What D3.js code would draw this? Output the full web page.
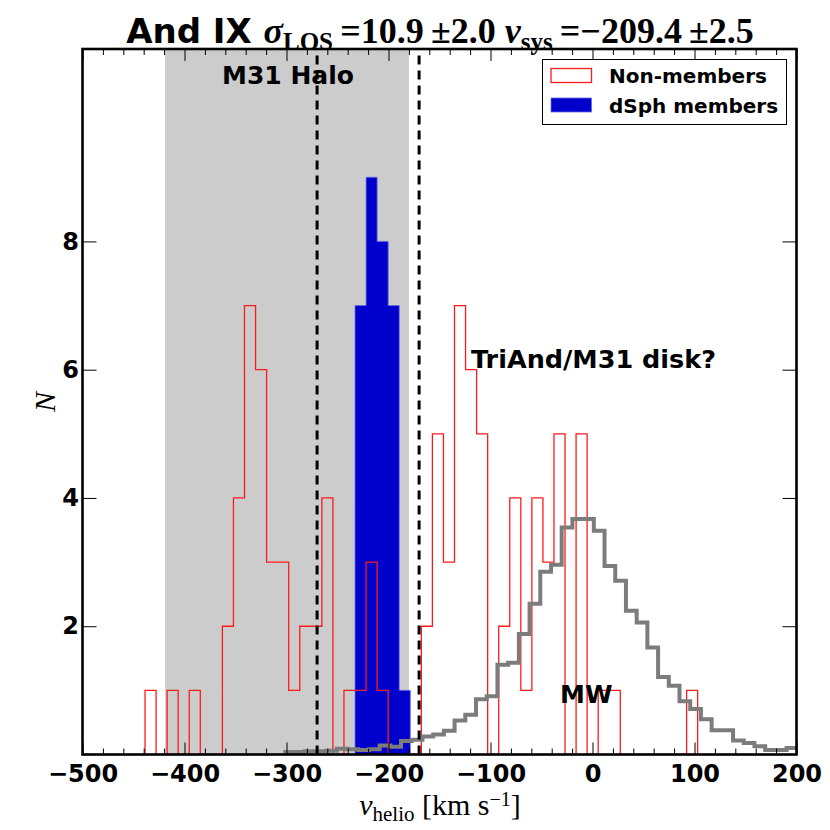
<!DOCTYPE html>
<html>
<head>
<meta charset="utf-8">
<script src="https://cdn.jsdelivr.net/npm/d3@7"></script>
<style>
  html, body { margin: 0; padding: 0; background: #fff; }
  svg { display: block; }
  .tick text { font-family: "DejaVu Sans", sans-serif; font-weight: bold; font-size: 24px; fill: #000; }
  .domain { display: none; }
</style>
</head>
<body>
<script>
// histogram bins (km/s), 50 bins shared by both samples
const binStart = -438.7;
const binWidth = 10.836;
const nonMemberCounts = [1,0,1,0,1,0,0,2,4,7, 6,3,3,1,2,2,4,0,1,1, 3,1,0,0,0,2,5,3,7,6, 5,0,2,4,1,4,3,5,0,5, 0,1,1,0,0,0,0,0,0,1];
const memberFirstBin = 19;
const memberCounts = [7,9,8,7,1];

// Milky Way model expected counts
const mwStart = -303.2;
const mwWidth = 10.5;
const mwValues = [0.04,0.04,0.05,0.05,0.06,0.09,0.08,0.07,0.08,0.14,0.12,0.21,0.23,0.28,0.31,0.37,0.53,0.62,
  0.86,0.91,1.40,1.43,1.88,2.35,2.85,2.96,3.54,3.67,3.67,3.49,2.94,2.71,2.24,2.06,1.67,1.21,1.07,0.83,0.71,0.55,
  0.38,0.38,0.22,0.18,0.13,0.07,0.07,0.10];

const haloRange = [-419, -180];
const dashedLines = [-270, -170];
const xTicks = [-500, -400, -300, -200, -100, 0, 100, 200];
const yTicks = [2, 4, 6, 8];
const legendLabels = ["Non-members", "dSph members"];

const W = 830, H = 830;
const margin = {top: 49, right: 33.5, bottom: 75.5, left: 82.5};

const svg = d3.select("body").append("svg").attr("width", W).attr("height", H);

const x = d3.scaleLinear().domain([-500, 200]).range([margin.left, W - margin.right]);
const y = d3.scaleLinear().domain([0, 11]).range([H - margin.bottom, margin.top]);

svg.append("clipPath").attr("id", "clip")
  .append("rect")
  .attr("x", x(-500)).attr("y", y(11))
  .attr("width", x(200) - x(-500)).attr("height", y(0) - y(11));

const plot = svg.append("g").attr("clip-path", "url(#clip)");

// M31 halo shaded band
plot.append("rect")
  .attr("x", x(haloRange[0])).attr("y", y(11))
  .attr("width", x(haloRange[1]) - x(haloRange[0]))
  .attr("height", y(0) - y(11))
  .attr("fill", "#cccccc");

function stepPath(start, width, counts, closed) {
  const p = d3.path();
  p.moveTo(x(start), y(closed ? 0 : counts[0]));
  counts.forEach((c, i) => {
    p.lineTo(x(start + i * width), y(c));
    p.lineTo(x(start + (i + 1) * width), y(c));
  });
  if (closed) p.lineTo(x(start + counts.length * width), y(0));
  return p.toString();
}

// dSph members (filled)
plot.append("path")
  .attr("d", stepPath(binStart + memberFirstBin * binWidth, binWidth, memberCounts, true) + "Z")
  .attr("fill", "#0000cd")
  .attr("stroke", "#6a6ae6")
  .attr("stroke-width", 0.8);

// non-members (step outline)
plot.append("path")
  .attr("d", stepPath(binStart, binWidth, nonMemberCounts, true))
  .attr("fill", "none")
  .attr("stroke", "#ff1a1a")
  .attr("stroke-width", 1.3);

// MW model
plot.append("path")
  .attr("d", stepPath(mwStart, mwWidth, mwValues, false))
  .attr("fill", "none")
  .attr("stroke", "#7c7c7c")
  .attr("stroke-width", 4)
  .attr("stroke-linejoin", "miter");

dashedLines.forEach((v) => {
  plot.append("line")
    .attr("x1", x(v)).attr("x2", x(v))
    .attr("y1", y(0)).attr("y2", y(11))
    .attr("stroke", "#000")
    .attr("stroke-width", 3)
    .attr("stroke-dasharray", "9,6");
});

// axes with inward ticks on all four sides
const minorX = d3.range(-500, 201, 20).filter((v) => v % 100 !== 0);

svg.append("g").attr("transform", `translate(0,${y(0)})`)
  .call(d3.axisBottom(x).tickValues(xTicks).tickSize(-12).tickPadding(10)
    .tickFormat((d) => d < 0 ? "\u2212" + Math.abs(d) : d));
svg.append("g").attr("transform", `translate(0,${y(0)})`)
  .call(d3.axisBottom(x).tickValues(minorX).tickSize(-6).tickFormat(""));
svg.append("g").attr("transform", `translate(0,${y(11)})`)
  .call(d3.axisTop(x).tickValues(xTicks).tickSize(-12).tickFormat(""));
svg.append("g").attr("transform", `translate(0,${y(11)})`)
  .call(d3.axisTop(x).tickValues(minorX).tickSize(-6).tickFormat(""));
svg.append("g").attr("transform", `translate(${x(-500)},0)`)
  .call(d3.axisLeft(y).tickValues(yTicks).tickSize(-14).tickPadding(3.5));
svg.append("g").attr("transform", `translate(${x(200)},0)`)
  .call(d3.axisRight(y).tickValues(yTicks).tickSize(-14).tickFormat(""));

svg.selectAll(".tick line").attr("stroke", "#000").attr("stroke-width", 1);

// frame
svg.append("rect")
  .attr("x", x(-500)).attr("y", y(11))
  .attr("width", x(200) - x(-500)).attr("height", y(0) - y(11))
  .attr("fill", "none").attr("stroke", "#000").attr("stroke-width", 2.6);

// annotations
const bold = (sel, size) => sel.attr("font-family", "DejaVu Sans, sans-serif")
  .attr("font-weight", "bold").attr("font-size", size).attr("fill", "#000");

bold(svg.append("text"), 25).attr("x", 288).attr("y", 84).attr("text-anchor", "middle").text("M31 Halo");
bold(svg.append("text"), 25.5).attr("x", 471).attr("y", 368).text("TriAnd/M31 disk?");
bold(svg.append("text"), 25).attr("x", 560).attr("y", 703).text("MW");

// legend
const leg = svg.append("g");
leg.append("rect").attr("x", 542.5).attr("y", 59.5).attr("width", 244).attr("height", 65)
  .attr("fill", "#fff").attr("stroke", "#000").attr("stroke-width", 1);
leg.append("rect").attr("x", 551).attr("y", 68.5).attr("width", 40.5).attr("height", 14)
  .attr("fill", "#fff").attr("stroke", "#ff1a1a").attr("stroke-width", 1.3);
leg.append("rect").attr("x", 551).attr("y", 98).attr("width", 40.5).attr("height", 14)
  .attr("fill", "#0000cd").attr("stroke", "#6a6ae6").attr("stroke-width", 0.8);
legendLabels.forEach((t, i) => {
  bold(leg.append("text"), 20).attr("x", 609).attr("y", 83 + i * 29.5).text(t);
});

// title
const title = svg.append("text").attr("x", 440).attr("y", 43).attr("text-anchor", "middle")
  .attr("fill", "#000");
const serif = "Liberation Serif, Times New Roman, serif";
title.append("tspan").attr("font-family", "DejaVu Sans, sans-serif").attr("font-weight", "bold")
  .attr("font-size", 34).text("And IX ");
const ts = title.append("tspan").attr("font-family", serif).attr("font-weight", "bold");
ts.append("tspan").attr("font-style", "italic").attr("font-size", 36).text("\u03c3");
ts.append("tspan").attr("font-size", 25).attr("dy", 7).text("LOS");
ts.append("tspan").attr("font-size", 36).attr("dy", -7).text("\u2009=10.9\u2009\u00b12.0 ");
ts.append("tspan").attr("font-style", "italic").attr("font-size", 36).text("v");
ts.append("tspan").attr("font-size", 25).attr("dy", 7).text("sys");
ts.append("tspan").attr("font-size", 36).attr("dy", -7).text("\u2009=\u2212209.4\u2009\u00b12.5");

// axis labels
const xl = svg.append("text").attr("x", 440).attr("y", 815).attr("text-anchor", "middle")
  .attr("font-family", serif).attr("fill", "#000");
xl.append("tspan").attr("font-style", "italic").attr("font-size", 30).text("v");
xl.append("tspan").attr("font-size", 21).attr("dy", 6).text("helio");
xl.append("tspan").attr("font-size", 30).attr("dy", -6).text(" [km s");
xl.append("tspan").attr("font-size", 20).attr("dy", -9).text("\u22121");
xl.append("tspan").attr("font-size", 30).attr("dy", 9).text("]");

svg.append("text").attr("transform", "translate(55,402) rotate(-90)")
  .attr("text-anchor", "middle").attr("font-family", serif).attr("font-style", "italic")
  .attr("font-size", 30).attr("fill", "#000").text("N");
</script>
</body>
</html>
